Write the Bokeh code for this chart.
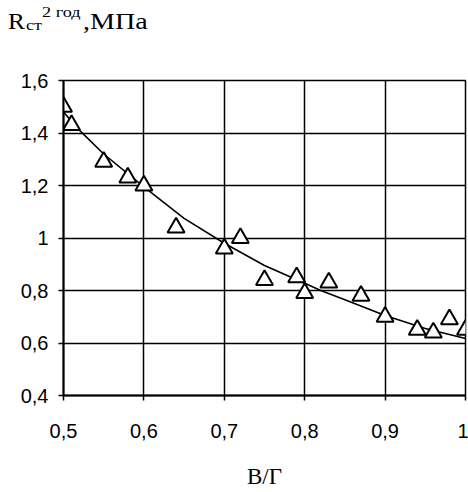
from bokeh.plotting import figure
from bokeh.models import FixedTicker, ColumnDataSource, Div
from bokeh.layouts import column
from bokeh.embed import file_html
from bokeh.resources import INLINE

# measured points (B/G ratio vs strength after 2 years, MPa)
ratio = [0.50, 0.51, 0.55, 0.58, 0.60, 0.64, 0.70, 0.72, 0.75, 0.79, 0.80,
         0.83, 0.87, 0.90, 0.94, 0.96, 0.98, 1.00]
strength = [1.50, 1.43, 1.29, 1.23, 1.20, 1.04, 0.96, 1.00, 0.84, 0.85, 0.79,
            0.83, 0.78, 0.70, 0.65, 0.64, 0.69, 0.65]

# trend curve
trend_x = [0.50, 0.52, 0.55, 0.60, 0.65, 0.70, 0.75, 0.80, 0.82, 0.85, 0.90, 0.95, 1.00]
trend_y = [1.48, 1.41, 1.32, 1.195, 1.075, 0.98, 0.895, 0.828, 0.80, 0.765, 0.705, 0.655, 0.617]

x_ticks = [0.5, 0.6, 0.7, 0.8, 0.9, 1.0]
x_tick_labels = ["0,5", "0,6", "0,7", "0,8", "0,9", "1"]
y_ticks = [0.4, 0.6, 0.8, 1.0, 1.2, 1.4, 1.6]
y_tick_labels = ["0,4", "0,6", "0,8", "1", "1,2", "1,4", "1,6"]

HEAD = 46  # height of the title strip above the figure

p = figure(width=468, height=492 - HEAD, x_range=(0.5, 1.0), y_range=(0.4, 1.6),
           output_backend="svg", toolbar_location=None, margin=0,
           min_border_left=63, min_border_right=3, min_border_top=80 - HEAD, min_border_bottom=97)
p.background_fill_color = "white"
p.border_fill_color = "white"
p.outline_line_color = "black"
p.outline_line_width = 1.5

for ax, ticks, labels in ((p.xaxis[0], x_ticks, x_tick_labels), (p.yaxis[0], y_ticks, y_tick_labels)):
    ax.ticker = FixedTicker(ticks=ticks)
    ax.major_label_overrides = {t: l for t, l in zip(ticks, labels)}
    ax.major_label_text_font = "Liberation Sans"
    ax.major_label_text_font_size = "20px"
    ax.major_label_text_color = "black"
    ax.axis_line_color = "black"
    ax.axis_line_width = 2
    ax.major_tick_line_color = "black"
    ax.major_tick_line_width = 1.5
    ax.major_tick_in = 0
    ax.major_tick_out = 5
    ax.minor_tick_line_color = None

p.xaxis.major_label_standoff = 23
p.yaxis.major_label_standoff = 10
p.xaxis.axis_label = "В/Г"
p.xaxis.axis_label_text_font = "Liberation Serif"
p.xaxis.axis_label_text_font_style = "normal"
p.xaxis.axis_label_text_font_size = "23px"
p.xaxis.axis_label_text_color = "black"
p.xaxis.axis_label_standoff = 23

for g, ticks in ((p.xgrid[0], x_ticks), (p.ygrid[0], y_ticks)):
    g.ticker = FixedTicker(ticks=ticks)
    g.grid_line_color = "black"
    g.grid_line_width = 1.5

p.line(trend_x, trend_y, line_color="black", line_width=1.6)
src = ColumnDataSource(dict(x=ratio, y=strength))
p.scatter("x", "y", source=src, marker="triangle", size=17, fill_color="white",
          line_color="black", line_width=2)

# y axis title (R_ст^{2 год}, МПа) as real text in a strip above the figure
span = ("position:absolute;white-space:nowrap;line-height:1;font-family:'Liberation Serif';"
        "color:black;transform-origin:0 0;")
title_html = (
    f'<div style="position:relative;width:468px;height:{HEAD}px;">'
    f'<span style="{span}left:8px;top:9.7px;font-size:23px;transform:scaleX(1.1);">R</span>'
    f'<span style="{span}left:26px;top:18.4px;font-size:15px;transform:scaleX(1.2);">ст</span>'
    f'<span style="{span}left:42px;top:6.3px;font-size:14px;transform:scaleX(1.3);">2 год</span>'
    f'<span style="{span}left:83px;top:9.7px;font-size:23px;transform:scaleX(1.22);">,МПа</span>'
    '</div>'
)
head = Div(text=title_html, width=468, height=HEAD, margin=0)

layout = column(head, p, spacing=0, margin=0)
open("out.html", "w").write(file_html(layout, INLINE))
